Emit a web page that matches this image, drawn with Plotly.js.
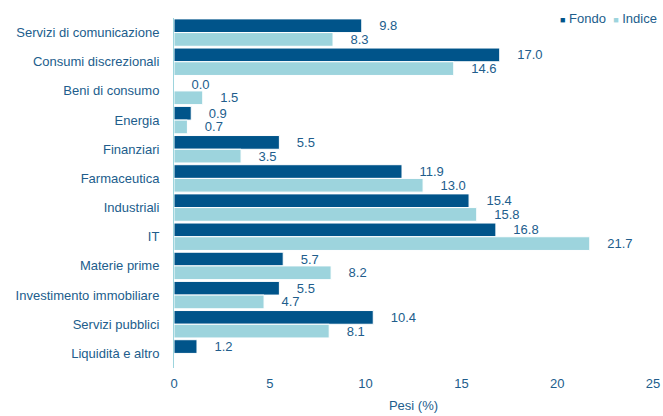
<!DOCTYPE html>
<html>
<head>
<meta charset="utf-8">
<script src="https://cdn.plot.ly/plotly-3.0.1.min.js"></script>
<style>
html,body{margin:0;padding:0;background:#fff;}
#chart{width:663px;height:416px;}
</style>
</head>
<body>
<div id="chart"></div>
<script>
const categories = ["Servizi di comunicazione","Consumi discrezionali","Beni di consumo","Energia","Finanziari","Farmaceutica","Industriali","IT","Materie prime","Investimento immobiliare","Servizi pubblici","Liquidità e altro"];
const fondo = [9.8, 17.0, 0.0, 0.9, 5.5, 11.9, 15.4, 16.8, 5.7, 5.5, 10.4, 1.2];
const indice = [8.3, 14.6, 1.5, 0.7, 3.5, 13.0, 15.8, 21.7, 8.2, 4.7, 8.1, null];
const seriesNames = ["Fondo", "Indice"];
const xTicks = [0, 5, 10, 15, 20, 25];

const textColor = "#215d8c";
const colors = ["#00548a", "#9dd4dd"];
const fontFam = "Liberation Sans, Arial, sans-serif";
const pad = "\u00a0\u00a0\u00a0\u00a0";

function barTrace(name, vals, color) {
  return {
    type: "bar", orientation: "h", name: name,
    y: categories, x: vals,
    marker: {color: color, line: {color: "#ffffff", width: 1}},
    text: vals.map(v => v === null ? "" : pad + v.toFixed(1)),
    textposition: "outside",
    constraintext: "none",
    cliponaxis: false,
    textfont: {family: fontFam, size: 13, color: textColor},
    hoverinfo: "skip",
    showlegend: false
  };
}

const data = [
  barTrace(seriesNames[0], fondo, colors[0]),
  barTrace(seriesNames[1], indice, colors[1])
];

const legendText = seriesNames.map((n, i) =>
  "<span style='color:" + colors[i] + ";font-size:9px'>■</span>\u00a0" + n).join("\u00a0\u00a0");

const layout = {
  width: 663, height: 416,
  margin: {l: 174, r: 10, t: 18, b: 48},
  paper_bgcolor: "#ffffff", plot_bgcolor: "#ffffff",
  barmode: "group", bargap: 0.06, bargroupgap: 0,
  font: {family: fontFam, size: 13, color: textColor},
  showlegend: false,
  annotations: [{
    xref: "paper", yref: "paper", x: 1.013, y: 1.0, xanchor: "right", yanchor: "middle",
    text: legendText, showarrow: false, font: {size: 13, color: textColor}
  }],
  xaxis: {range: [0, 25], tickvals: xTicks, ticktext: xTicks.map(String),
          showgrid: false, zeroline: false, showline: false, ticks: "",
          ticklabelstandoff: 6, fixedrange: true,
          title: {text: "Pesi (%)", font: {size: 13, color: textColor}, standoff: 10}},
  yaxis: {autorange: "reversed", showgrid: false, zeroline: false,
          showline: true, linecolor: "#9dd4dd", linewidth: 1,
          ticks: "", ticklabelstandoff: 11, fixedrange: true}
};

Plotly.newPlot("chart", data, layout, {displayModeBar: false, staticPlot: true});
</script>
</body>
</html>
